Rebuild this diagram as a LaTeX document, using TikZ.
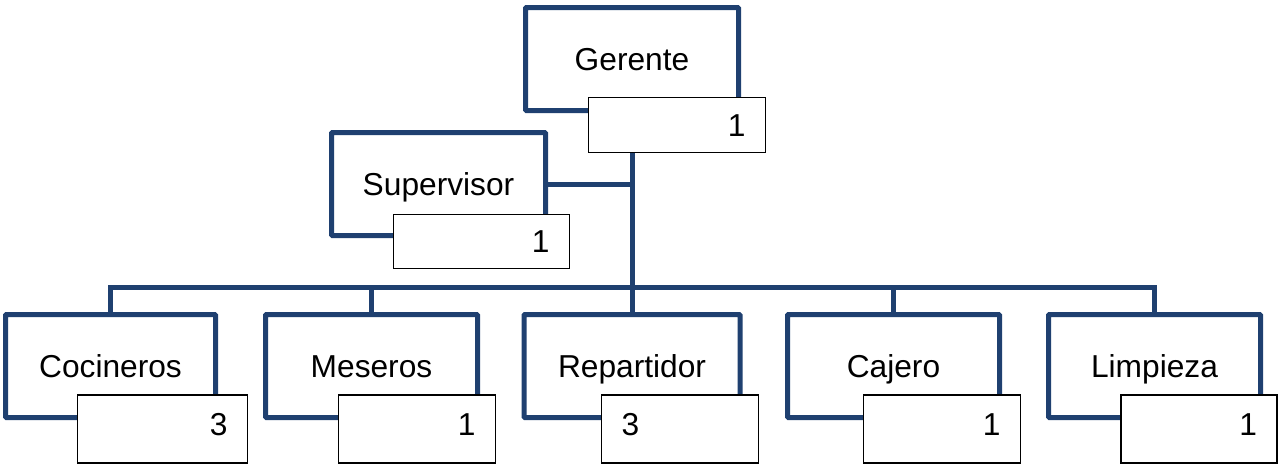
\documentclass[tikz,border=0pt]{standalone}
\usepackage{fontspec}
\setmainfont{Liberation Sans}
\usepackage{tikz}
\definecolor{azulorg}{RGB}{31,64,112}
\tikzset{
  cargo/.style={draw=azulorg, line width=5pt, fill=white, rounded corners=1pt,
    minimum width=212pt, minimum height=103pt, inner sep=0pt,
    text height=22.8pt, text depth=0pt},
  cuenta/.style={draw=black, line width=1.5pt, fill=white, inner xsep=20pt,
    inner ysep=0pt, align=flush right, text height=22.8pt, text depth=0pt},
  abajo/.style={minimum height=68pt, text height=19pt, text depth=6.3pt},
  enlace/.style={draw=azulorg, line width=5pt}
}

\begin{document}
\begin{tikzpicture}[x=1pt, y=-1pt, font=\fontsize{31.7}{38}\selectfont]
	\useasboundingbox (0,0) rectangle (1278,466);
	% cargos
	\node[cargo, minimum width=213pt] (ger) at (632, 59) {Gerente};
	\node[cargo, minimum width=214pt] (sup) at (438.5, 184) {Supervisor};
	\node[cargo, minimum width=210pt] (coc) at (110.5, 366) {Cocineros};
	\node[cargo] (mes) at (371.5, 366) {Meseros};
	\node[cargo, minimum width=216pt] (rep) at (632, 366) {Repartidor};
	\node[cargo] (caj) at (893.5, 366) {Cajero};
	\node[cargo] (lim) at (1154.5, 366) {Limpieza};
	% lineas
	\draw[enlace] (sup.east) -| (ger.south);
	\draw[enlace] (coc.north) -- ++(0,-24.5) -| (ger.south);
	\draw[enlace] (mes.north) -- ++(0,-24.5) -| (ger.south);
	\draw[enlace] (rep.north) -- (ger.south);
	\draw[enlace] (caj.north) -- ++(0,-24.5) -| (ger.south);
	\draw[enlace] (lim.north) -- ++(0,-24.5) -| (ger.south);
	% cantidades
	\node[cuenta, text width=137pt, minimum height=55pt] (nger) at (677, 125) {1};
	\node[cuenta, text width=136pt, minimum height=54pt] (nsup) at (481.5, 241.5) {1};
	\node[cuenta, abajo, text width=130pt] (ncoc) at (162.5, 429) {3};
	\node[cuenta, abajo, text width=117pt] (nmes) at (417, 429) {1};
	\node[cuenta, abajo, text width=117pt, align=flush left] (nrep) at (680, 429) {3};
	\node[cuenta, abajo, text width=117pt] (ncaj) at (942, 429) {1};
	\node[cuenta, abajo, text width=116pt] (nlim) at (1199, 429) {1};
\end{tikzpicture}
\end{document}
